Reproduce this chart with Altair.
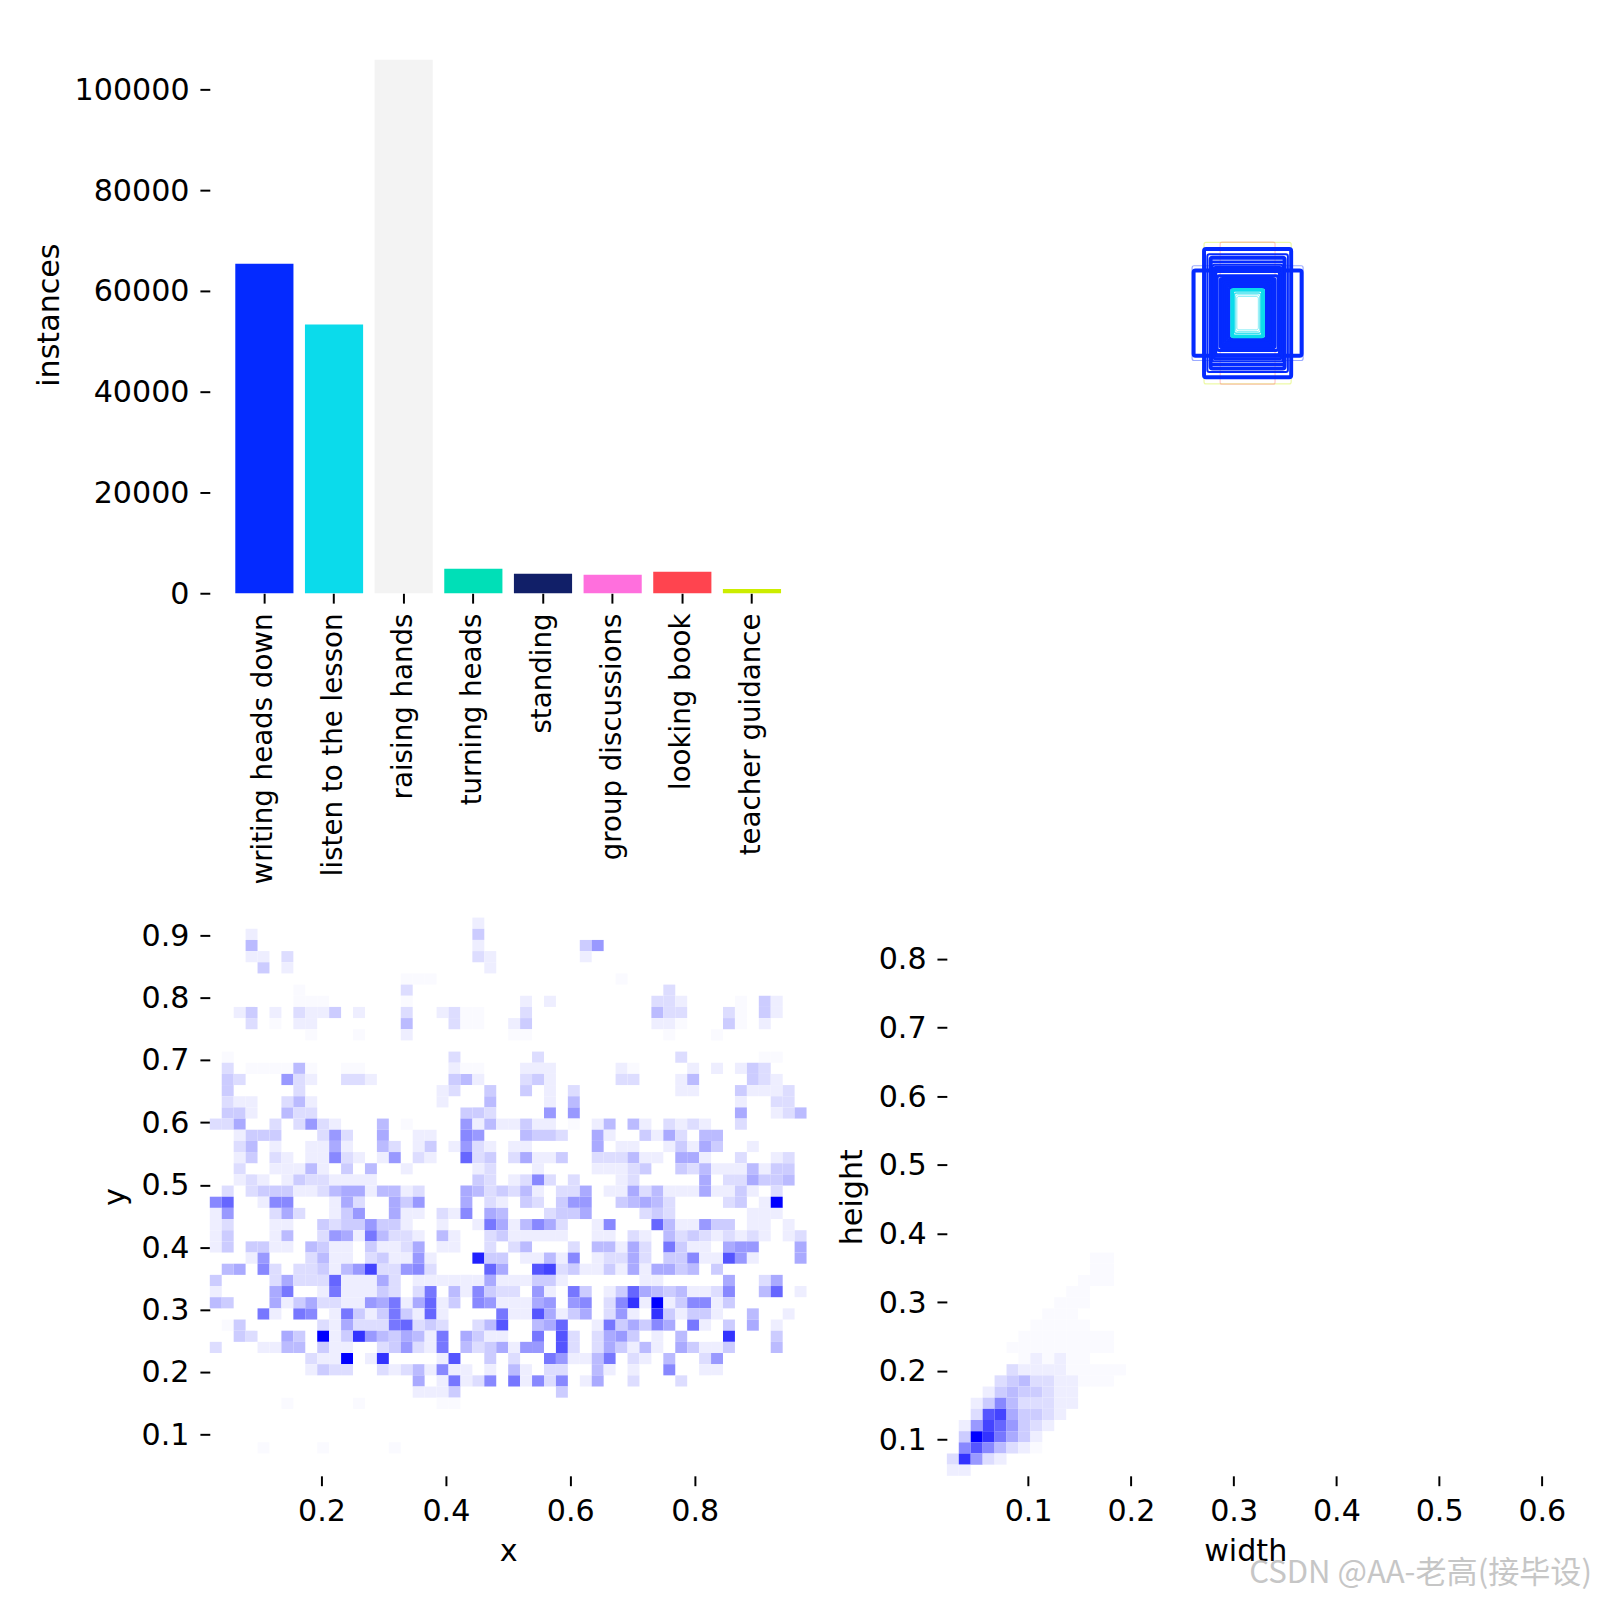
import altair as alt
import pandas as pd

FONT = "DejaVu Sans"
FS = 30.5
TITLE_FS = 30.5

# ---------- instances per class ----------
classes = ["writing heads down", "listen to the lesson", "raising hands", "turning heads",
           "standing", "group discussions", "looking book", "teacher guidance"]
instances = [65400, 53350, 105900, 4880, 3850, 3650, 4250, 820]
class_colors = ["#042AFF", "#0BDBEB", "#F3F3F3", "#00DFB7", "#111F68", "#FF6FDD", "#FF444F", "#CCED00"]

# ---------- x/y density: one string per row (top to bottom), hex shade per cell, + is very faint ----------
xy_rows = [
    "..... ..... ..... ..... ..1.. ..... ..... ..... ..... .....",
    "...1. ..... ..... ..... ..3.. ..... ..... ..... ..... .....",
    "...4. ..... ..... ..... ..1.. ..... .36.. ..... ..... .....",
    "...11 .2... ..... ..... ..21. ..... .1... ..... ..... .....",
    "....3 .1... ..... ..... ...1. ..... ..... ..... ..... .....",
    "..... ..... ..... .+++. ..... ..... ....+ ..... ..... .....",
    "..... ..+.. ..... .2... ..... ..... ..... ...2. ..... .....",
    "..... ..+++ ..... .+... ..... .1.1. ..... ..221 ....+ .31..",
    "..13. 1.211 3.1.. .2..1 2++.. .2... ..... ..422 ...2+ .31..",
    "...2. +.11. ..... .4... 2++.. 13... ..... ..11+ ...3+ .1...",
    "..... ...+. ..+.. .1... ..... ++... ..... ...+. ..+.. .....",
    "..... ..... ..... ..... ..... ..... ..... ..... ..... .....",
    ".+... ..... ..... ..... 2.... ..2.. ..... ....2 ..... .++..",
    ".2.++ ++4+. .++.. ..... 1++.. .111. ....1 +.... 1.1.1 32...",
    ".32.. .621. .221. ..... 341.. .231. ....2 2...1 4.... 321..",
    ".3... ..2.. ..... ....1 2..3. .3.1. 2.... ....1 1...3 1112.",
    ".211. .241. ..... ....1 ...4. ...1. 4.... ..... ....1 ..22.",
    ".331. .422. ..... ..... .332. ...6. 6.... ..... ....5 ..124",
    "225.. 2.262 1...4 .+... .6141 1311. +.14. 41.21 21..2 .....",
    "..133 3...2 62..5 ..11. .76.. .4332 ..51. .3152 .44.. .....",
    "..24. 1..11 51..4 2.13. 1621. 11... ..5.1 1..13 153.. 1....",
    "..13. 21.11 721.1 6.21. .923. 25113 ..222 411.5 51..2 ..12.",
    "..2.. 11141 .3.4. .1... ..12. ..1.. ..111 23..3 24111 4133.",
    "..121 .1322 1111. ..... ..32. 1272. 2...1 2.... .5.22 5334.",
    ".2.23 33112 45514 412.. .5423 241.2 25.11 52411 15113 1.2..",
    "79..1 77... 152.. 536.. .5.21 .32.3 66..3 4542. ...23 .1f..",
    "16... 252.. 136.. 511.2 17.54 ...23 35... .232. ..... 111..",
    "12... 11..3 23363 31..1 ..185 14752 ..17. ..941 1633. 11.1.",
    "13... 14..2 65184 221.4 1..23 11111 ..11. 21.42 32121 21.12",
    "13.33 11.43 11.31 125.1 1..2. 24... 2.441 52.83 11.56 6...5",
    "...16 ...24 11.23 1161. ..d33 .1141 7.122 52.33 711a6 1...5",
    ".45.7 2.223 146b2 2672. ...95 ..ab2 31131 51553 4.3.. .....",
    "3.... 25222 91115 2.111 11151 11331 ..... .11.. ...5. .25..",
    "1.... 58..1 81113 2.28. 41732 2.61. 83.13 95434 1127. .49.1",
    "43... 51352 21165 81591 3.761 1156. 67.27 c1f13 7713. .....",
    "....8 1.87. 18313 83191 ....8 11a51 35.26 1.c31 331.. 4..1.",
    ".+3.. ....2 15222 89232 ..24a ..459 ..183 5375. 81.3. 5.1..",
    "..32. .53.f 13c64 35418 .5311 ..8.a 2.256 3.1.4 ...c. ..3..",
    "2...1 144.3 11..2 36218 .4235 166.a 2.253 141.5 3113. ..4..",
    "..... ...21 1f.1c ....1 a..3. 2..86 1148. 21.4. .26.. .....",
    "..... ...13 22..2 12417 11.1. 41.22 ..41. 1..7. .11.. .....",
    "..... ..... ..... ..5.1 8127. 81727 .15.. 2...2 ..... .....",
    "..... ..... ..... ..111 3.... ....3 ..... ..... ..... .....",
    "..... .+... ..+.. ....+ +.... ..... ..... ..... ..... .....",
    "..... ..... ..... ..... ..... ..... ..... ..... ..... .....",
    "..... ..... ..... ..... ..... ..... ..... ..... ..... .....",
    "..... ..... ..... ..... ..... ..... ..... ..... ..... .....",
    "....+ ....+ ..... +.... ..... ..... ..... ..... ..... .....",
]
xy_x_domain = [0.0205, 0.9797]
xy_y_domain = [0.0335, 0.9285]
xy_x_ticks = [0.2, 0.4, 0.6, 0.8]
xy_y_ticks = [0.1, 0.2, 0.3, 0.4, 0.5, 0.6, 0.7, 0.8, 0.9]

# ---------- width/height density: rows 30..49 of the 50-row grid ----------
wh_first_row = 30
wh_rows = [
    "............++....",
    "............++....",
    "...........+++....",
    "..........++......",
    ".........+++......",
    "........+++.......",
    ".......+++++......",
    "......++++++++....",
    ".....+++++++++....",
    "......+1+1++......",
    ".....21111+++++...",
    "....2342211+++....",
    "...13433211.......",
    "..137422211.......",
    "..2ab53321........",
    ".16b96321.........",
    ".3fc8531..........",
    ".7a7421+..........",
    "2c621.............",
    "11................",
]
wh_x_domain = [0.0209, 0.6017]
wh_y_domain = [0.0472, 0.8601]
wh_x_ticks = [0.1, 0.2, 0.3, 0.4, 0.5, 0.6]
wh_y_ticks = [0.1, 0.2, 0.3, 0.4, 0.5, 0.6, 0.7, 0.8]

# ---------- centred boxes: width, height (fractions), colour, opacity, stroke ----------
box_w = [.146, .092, .146, .186, .181, .135, .124, .124, .118, .114, .107, .102, .092, .087, .082, .076, .070, .062,
         .054, .050, .044, .040, .036]
box_h = [.254, .255, .230, .170, .153, .211, .199, .184, .174, .164, .149, .134, .124, .117, .111, .104, .097, .092,
         .086, .082, .072, .066, .060]
box_c = ["#CCED00", "#FF444F", "#042AFF", "#042AFF", "#042AFF", "#042AFF", "#042AFF", "#042AFF", "#042AFF", "#042AFF",
         "#042AFF", "#042AFF", "#042AFF", "#042AFF", "#042AFF", "#042AFF", "#042AFF", "#042AFF",
         "#0BDBEB", "#0BDBEB", "#0BDBEB", "#0BDBEB", "#0BDBEB"]
box_o = [.35, .3, 1, .4, 1, 1, 1, 1, 1, 1, 1, 1, 1, 1, 1, 1, 1, 1, 1, 1, .8, .5, .6]
box_s = [1.2, 1.2, 4, 1.2, 4, 2, 4, 3, 2, 3, 3, 3, 3, 3, 3, 3, 3, 3, 2.5, 3, 1.5, 1, .8]
box_cx, box_cy = 0.504, 0.5027

PW, TOP_H, BOTTOM_H = 604, 564, 565


def shade(ch):
    return 0.3 if ch == "+" else int(ch, 16)


def cells(rows, first_row, xd, yd):
    dx = (xd[1] - xd[0]) / 50
    dy = (yd[1] - yd[0]) / 50
    out = []
    for r, row in enumerate(rows):
        row = row.replace(" ", "")
        for c, ch in enumerate(row):
            if ch == ".":
                continue
            out.append({
                "x0": xd[0] + c * dx, "x1": xd[0] + (c + 1) * dx,
                "y1": yd[1] - (r + first_row) * dy, "y0": yd[1] - (r + first_row + 1) * dy,
                "v": shade(ch),
            })
    return pd.DataFrame(out)


def axis(title, ticks, **kw):
    return alt.Axis(title=title, values=ticks, domain=False, grid=False, format=".1f", **kw)


def heat(df, xd, yd, xt, yt, xtitle, ytitle, ypad):
    return alt.Chart(df).mark_rect(strokeWidth=0).encode(
        x=alt.X("x0:Q", scale=alt.Scale(domain=xd, nice=False, zero=False),
                axis=axis(xtitle, xt, titlePadding=10, labelPadding=11)),
        x2="x1:Q",
        y=alt.Y("y0:Q", scale=alt.Scale(domain=yd, nice=False, zero=False),
                axis=axis(ytitle, yt, titlePadding=ypad, labelOffset=1, labelPadding=11)),
        y2="y1:Q",
        color=alt.Color("v:Q", scale=alt.Scale(domain=[0, 15], range=["#ffffff", "#0000ff"], interpolate="rgb"),
                        legend=None),
    ).properties(width=PW, height=BOTTOM_H)


bars = alt.Chart(pd.DataFrame({"c": classes, "n": instances, "col": class_colors})).mark_bar().encode(
    x=alt.X("c:N", sort=classes, title=None,
            scale=alt.Scale(paddingInner=0.165, paddingOuter=0.366),
            axis=alt.Axis(labelAngle=270, domain=False, grid=False, labelLimit=400, labelFontSize=28, labelPadding=10)),
    y=alt.Y("n:Q", scale=alt.Scale(domain=[0, 110600], nice=False),
            axis=alt.Axis(title="instances", values=[0, 20000, 40000, 60000, 80000, 100000],
                          domain=False, grid=False, format="d", titlePadding=9.45, labelOffset=1, labelPadding=11)),
    color=alt.Color("col:N", scale=None),
).properties(width=PW, height=TOP_H)

boxes_df = pd.DataFrame({"w": box_w, "h": box_h})
boxes_df["x0"] = box_cx - boxes_df.w / 2
boxes_df["x1"] = box_cx + boxes_df.w / 2
boxes_df["y0"] = box_cy - boxes_df.h / 2
boxes_df["y1"] = box_cy + boxes_df.h / 2

box_layers = [
    alt.Chart(boxes_df.iloc[[i]]).mark_rect(
        fillOpacity=0, cornerRadius=2,
        stroke=box_c[i], strokeOpacity=box_o[i], strokeWidth=box_s[i],
    ).encode(
        x=alt.X("x0:Q", scale=alt.Scale(domain=[0, 1], nice=False), axis=None),
        x2="x1:Q",
        y=alt.Y("y0:Q", scale=alt.Scale(domain=[0, 1], nice=False), axis=None),
        y2="y1:Q",
    )
    for i in range(len(boxes_df))
]
boxes = alt.layer(*box_layers).properties(width=PW, height=TOP_H)

xy = heat(cells(xy_rows, 0, xy_x_domain, xy_y_domain), xy_x_domain, xy_y_domain,
          xy_x_ticks, xy_y_ticks, "x", "y", 11)
wh = heat(cells(wh_rows, wh_first_row, wh_x_domain, wh_y_domain), wh_x_domain, wh_y_domain,
          wh_x_ticks, wh_y_ticks, "width", "height", 11)

mark_text = alt.Chart(pd.DataFrame({"t": ["CSDN @AA-老高(接毕设)"]})).mark_text(
    font="Noto Sans CJK SC", fontSize=31.5, align="right", color="#b4b4b4", opacity=0.75,
).encode(x=alt.value(653), y=alt.value(664), text="t:N")
wh_all = alt.layer(wh, mark_text)

chart = alt.concat(bars, boxes, xy, wh_all, columns=2, bounds="flush",
                   spacing={"row": 328.3, "column": 142}).properties(
    padding={"left": 27.25, "top": 18.7, "right": 0, "bottom": 0},
).configure_view(stroke=None).configure_axis(
    labelFont=FONT, labelFontSize=FS, labelColor="#000000", labelPadding=10,
    titleFont=FONT, titleFontSize=TITLE_FS, titleFontWeight="normal", titleColor="#000000",
    tickColor="#000000", tickSize=10, tickWidth=2,
).resolve_scale(color="independent")

chart.save("out.html", embed_options={"renderer": "svg", "actions": False})
